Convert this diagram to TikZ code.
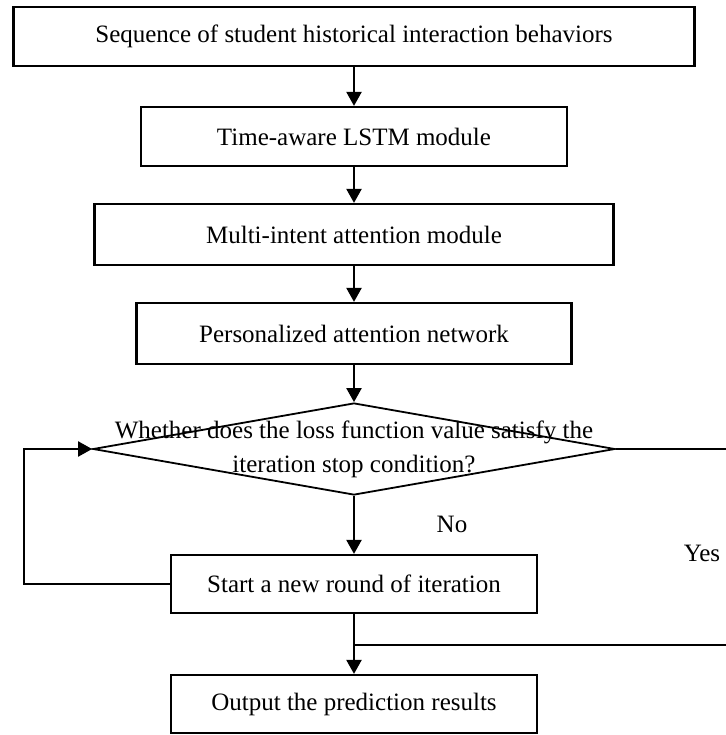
\documentclass[tikz,border=0pt]{standalone}
\usepackage{fontspec}
\setmainfont{Liberation Serif}
\usetikzlibrary{positioning,calc,shapes,arrows.meta}
\tikzset{%
  every box/.style={
    rectangle,
    draw,
    line width=1.1pt,
    inner sep=0pt
  },
  box cond/.style={
    diamond,
    line width=0.9pt
  },
  flow line/.style={
    line width=1.1pt
  },
}

\begin{document}
\begin{tikzpicture}[x=0.5pt, y=-0.5pt, >={Triangle[length=7pt,width=7.5pt]},
    font=\fontsize{12.5}{17}\selectfont]
        \useasboundingbox (0,0) rectangle (725,735);
        \foreach \m/\w/\h/\y/\l in {seq/681/59/36.5/Sequence of student historical interaction behaviors,
                                     lstm/426/59/136.5/Time-aware LSTM module,
                                     intent/519/61/234.5/Multi-intent attention module,
                                     pan/435/61/333.5/Personalized attention network,
                                     iter/366/58/584/Start a new round of iteration,
                                     out/366/58/704/Output the prediction results}
            \node [every box/.try, minimum width=\w*0.5pt, minimum height=\h*0.5pt] (\m) at (354,\y) {\l};
        \node [every box/.try, box cond, minimum width=261pt, minimum height=46pt] (cond) at (354,449) {};
        \node [align=center] (cond-text) at (354,449) {Whether does the loss function value satisfy the\\iteration stop condition?};

        \foreach \a/\b in {seq/lstm, lstm/intent, intent/pan, pan/cond, cond/iter, iter/out}
            \draw [flow line, ->] (\a) -- (\b);

        \coordinate (loop-corner) at (24,449);
        \draw [flow line, ->] (iter.west) -| (loop-corner) -- (cond.west);
        \coordinate (yes-top) at (745,449);
        \coordinate (yes-bottom) at (745,645);
        \coordinate (merge) at (354,645);
        \draw [flow line] (cond.east) -- (yes-top) -- (yes-bottom) -- (merge);

        \node (no-label) at (452,524) {No};
        \node (yes-label) at (702,553) {Yes};
        \end{tikzpicture}
\end{document}
